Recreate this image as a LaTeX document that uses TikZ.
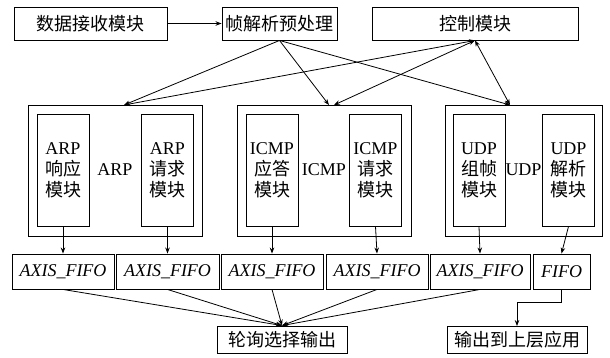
\documentclass[tikz,border=0pt]{standalone}
\usepackage{fontspec}
\setmainfont{Liberation Serif}
\newfontfamily\cjk{Noto Sans CJK SC}
\newcommand{\zh}[1]{{\cjk #1}}
\usetikzlibrary{arrows.meta,calc}
\tikzset{
  box/.style={draw, line width=0.9pt, inner sep=0pt, font=\fontsize{18}{21}\selectfont, align=center},
  topbox/.style={box, minimum height=33pt},
  outerbox/.style={draw, line width=0.9pt, minimum width=174pt, minimum height=131pt, inner sep=0pt},
  innerbox/.style={box, minimum width=52pt, minimum height=112pt},
  fifobox/.style={box, minimum height=35pt, font=\fontsize{18}{21}\selectfont\itshape},
  botbox/.style={box, minimum height=27pt},
  lbl/.style={font=\fontsize{18}{21}\selectfont, inner sep=0pt},
  arr/.style={line width=0.8pt, -{Stealth[length=6pt,width=4.5pt]}},
  darr/.style={line width=0.8pt, {Stealth[length=6pt,width=4.5pt]}-{Stealth[length=6pt,width=4.5pt]}}
}
\begin{document}
\begin{tikzpicture}[x=1pt,y=-1pt]
\useasboundingbox (0,0) rectangle (610,358);
% top row
\node[topbox, minimum width=153pt] (recv) at (90.5,23.5) {\zh{数据接收模块}};
\node[topbox, minimum width=115pt] (parse) at (279.5,23.5) {\zh{帧解析预处理}};
\node[topbox, minimum width=206pt] (ctrl) at (475,23.5) {\zh{控制模块}};
% outer boxes
\node[outerbox] (arp) at (115,170.5) {};
\node[outerbox] (icmp) at (324,170.5) {};
\node[outerbox, minimum width=157pt] (udp) at (523.5,170.5) {};
\node[lbl] (arpl) at (115,170) {ARP};
\node[lbl] (icmpl) at (324,170) {ICMP};
\node[lbl] (udpl) at (523.5,170) {UDP};
% inner boxes
\node[innerbox] (m1) at (63,170) {ARP\\\zh{响应}\\\zh{模块}};
\node[innerbox] (m2) at (167.5,170) {ARP\\\zh{请求}\\\zh{模块}};
\node[innerbox] (m3) at (272,170) {ICMP\\\zh{应答}\\\zh{模块}};
\node[innerbox] (m4) at (375.5,170) {ICMP\\\zh{请求}\\\zh{模块}};
\node[innerbox] (m5) at (479,170) {UDP\\\zh{组帧}\\\zh{模块}};
\node[innerbox] (m6) at (568.5,170) {UDP\\\zh{解析}\\\zh{模块}};
% fifo row
\node[fifobox, minimum width=102pt] (f1) at (63,271.5) {AXIS\_FIFO};
\node[fifobox, minimum width=103pt] (f2) at (167.5,271.5) {AXIS\_FIFO};
\node[fifobox, minimum width=102pt] (f3) at (272,271.5) {AXIS\_FIFO};
\node[fifobox, minimum width=102pt] (f4) at (377,271.5) {AXIS\_FIFO};
\node[fifobox, minimum width=100pt] (f5) at (480,271.5) {AXIS\_FIFO};
\node[fifobox, minimum width=57pt] (f6) at (561.5,271.5) {FIFO};
% bottom
\node[botbox, minimum width=130pt] (poll) at (282,339.5) {\zh{轮询选择输出}};
\node[botbox, minimum width=140pt] (out) at (517,340) {\zh{输出到上层应用}};
% attach points
\coordinate (arpT) at (124,105);
\coordinate (icmpA) at (329,105);
\coordinate (icmpB) at (334,105);
\coordinate (udpT) at (510,105);
% connectors
\draw[arr] (recv) -- (parse);
\draw[arr] (parse.south) -- (arpT);
\draw[arr] (parse.south) -- (icmpA);
\draw[arr] (parse.south) -- (udpT);
\draw[darr] (ctrl.south) -- (arpT);
\draw[darr] (ctrl.south) -- (icmpB);
\draw[darr] (ctrl.south) -- (udpT);
\foreach \i in {1,...,6}{\draw[arr] (m\i.south) -- (f\i.north);}
\foreach \i in {1,...,5}{\draw[arr] (f\i.south) -- (poll.north);}
\draw[arr] (f6.south) -- ++(0,13) -| (out.north);
\end{tikzpicture}
\end{document}
